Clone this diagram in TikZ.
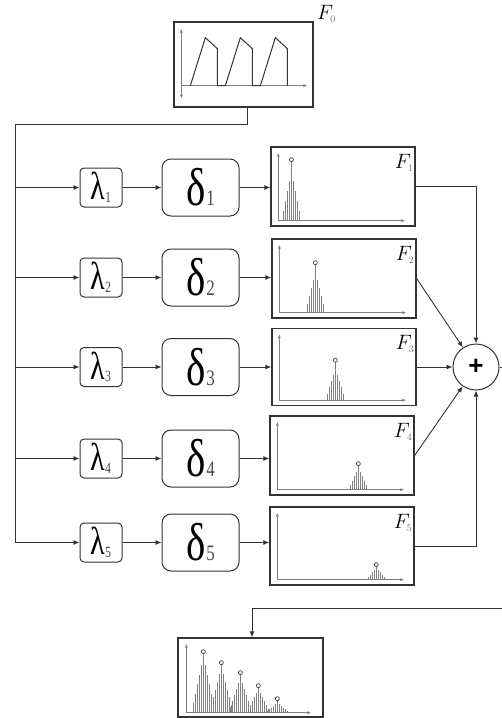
\documentclass[tikz,border=0pt]{standalone}
\usepackage{fontspec}
\usepackage{graphicx}
\newfontfamily\grk{Liberation Serif}
\newfontfamily\sanf{Liberation Sans}
\usetikzlibrary{arrows.meta,calc}
\definecolor{ln}{gray}{0.2}
\definecolor{axc}{gray}{0.5}
\definecolor{barc}{gray}{0.5}
\newcommand\lamtxt[1]{\scalebox{1}[1.3]{\grk\fontsize{30}{30}\selectfont λ\kern-0.5pt\raisebox{-2pt}{\fontsize{12}{12}\selectfont\color{black!70}#1}}}
\newcommand\deltxt[1]{\scalebox{1}[1.3]{\grk\fontsize{41}{41}\selectfont δ\kern1pt{\fontsize{17}{17}\selectfont\color{black!70}#1}}}
\newcommand\flab[1]{\fontsize{20}{20}\selectfont$F_{\scriptscriptstyle\color{black!60}#1}$}
% #1 cx, #2 base, #3 bar height, #4 circle height, #5 half count
\newcommand\mypeak[5]{%
  \foreach \k in {-#5,...,#5}{\pgfmathsetmacro\hh{#3*(#5+1-abs(\k))/(#5+1)}\draw[pkbar] (#1+2*\k,-#2) -- ++(0,-\hh);}
  \draw[pkbar] (#1,-#2-#3) -- (#1,-#2-#4+2);
  \draw[pkcirc] (#1,-#2-#4) circle[radius=2pt];}
% #1 top of y axis, #2 right end of x axis
\newcommand\plotaxes[2]{%
  \draw[axline,-{Latex[length=4pt,width=3pt]}] (8,-6) -- (8,-#1);
  \draw[axline,-{Latex[length=4pt,width=3pt]}] (8,-6) -- (#2,-6);}
\tikzset{
  plotbox/.style={draw=ln, line width=1.3pt, inner sep=0pt, minimum width=144pt, minimum height=79pt},
  lambox/.style={draw=ln, line width=1pt, rounded corners=4pt, inner sep=0pt, minimum width=42pt, minimum height=39pt},
  delbox/.style={draw=ln, line width=1pt, rounded corners=9pt, inner sep=0pt, minimum width=77pt, minimum height=57pt},
  conn/.style={draw=ln, line width=0.9pt},
  arr/.style={conn, -{Latex[length=6pt,width=5pt]}},
  axline/.style={draw=axc, line width=0.7pt},
  pkbar/.style={draw=barc, line width=0.55pt},
  pkcirc/.style={draw=black!75, line width=0.7pt, fill=white},
  saw/.style={draw=black!80, line width=1pt, line join=miter},
  flabel/.style={anchor=base east, inner sep=0pt},
}
\begin{document}
\begin{tikzpicture}[x=1pt,y=-1pt]
\useasboundingbox (0,0) rectangle (502,718);
% F0
\node[plotbox, minimum width=139pt, minimum height=85pt] (F0) at (243.5,64.5) {};
\node[anchor=base west, inner sep=0pt] (F0lab) at (317,19) {\flab{0}};
\begin{scope}[shift={(F0.south west)}]
  \draw[axline,{Latex[length=4pt,width=3pt]}-{Latex[length=4pt,width=3pt]}] (8,-9) -- (8,-79);
  \draw[axline,-{Latex[length=4pt,width=3pt]}] (8,-22) -- (134,-22);
  \draw[saw] (17,-22) -- (32,-70) -- (44,-59) -- (44,-22) -- (52,-22) -- (67,-70) -- (79,-59) -- (79,-22) -- (87,-22) -- (102,-70) -- (114,-59) -- (114,-22);
\end{scope}
% bus
\coordinate (bustop) at (15,124);
\coordinate (busbot) at (15,542.5);
\draw[conn] ([xshift=3.5pt]F0.south) |- (bustop) -- (busbot);
% rows
\foreach \i/\y in {1/187.5,2/277.5,3/367,4/458.5,5/542.5}{
  \node[lambox] (L\i) at (101,\y) {\lamtxt{\i}};
  \node[delbox] (D\i) at (200.5,\y) {\deltxt{\i}};
}
\node[plotbox] (F1) at (343,186.5) {};
\node[plotbox] (F2) at (344,278.5) {};
\node[plotbox, minimum height=77pt] (F3) at (344,367) {};
\node[plotbox] (F4) at (342,455.5) {};
\node[plotbox, minimum height=78pt] (F5) at (342,546) {};
\foreach \i in {1,...,5}{
  \draw[arr] (bustop |- L\i.west) -- (L\i.west);
  \draw[arr] (L\i) -- (D\i);
  \draw[arr] (D\i.east) -- (D\i.east -| F\i.west);
  \node[flabel] (FL\i) at ([xshift=-2pt,yshift=-22pt]F\i.north east) {\flab{\i}};
}
% plots
\begin{scope}[shift={(F1.south west)}]
  \plotaxes{74}{135}\mypeak{21}{6}{49}{61}{4}
\end{scope}
\begin{scope}[shift={(F2.south west)}]
  \plotaxes{74}{135}\mypeak{44}{6}{41}{50}{4}
\end{scope}
\begin{scope}[shift={(F3.south west)}]
  \plotaxes{72}{135}\mypeak{64}{6}{32}{40}{4}
\end{scope}
\begin{scope}[shift={(F4.south west)}]
  \plotaxes{74}{135}\mypeak{89}{6}{22}{26}{4}
\end{scope}
\begin{scope}[shift={(F5.south west)}]
  \plotaxes{73}{135}\mypeak{107}{6}{12}{15}{4}
\end{scope}
% sum
\node[circle, draw=ln, line width=1pt, minimum size=46pt, inner sep=0pt] (P) at (476,367) {\sanf\bfseries\fontsize{26}{26}\selectfont +};
\draw[arr] (F1.east) -| (P.north);
\draw[arr] (F2.east) -- (P);
\draw[arr] (F3.east) -- (P.west);
\draw[arr] (F4.east) -- (P);
\draw[arr] (F5.east) -| (P.south);
\coordinate (OE) at (502,367);
\coordinate (OB) at (502,608);
\draw[conn] (P.east) -- (OE);
% result
\node[plotbox, minimum width=145pt] (G) at (250.5,677.5) {};
\draw[arr] (OB) -| ([xshift=1.5pt]G.north);
\begin{scope}[shift={(G.south west)}]
  \draw[axline,-{Latex[length=4pt,width=3pt]}] (9,-5) -- (9,-74);
  \draw[axline,-{Latex[length=4pt,width=3pt]}] (9,-5) -- (134,-5);
  \mypeak{26}{5}{57}{61}{5}
  \mypeak{44}{5}{46}{50}{5}
  \mypeak{63}{5}{36}{40}{5}
  \mypeak{81}{5}{23}{27}{5}
  \mypeak{100}{5}{10}{14}{5}
\end{scope}
\end{tikzpicture}
\end{document}
